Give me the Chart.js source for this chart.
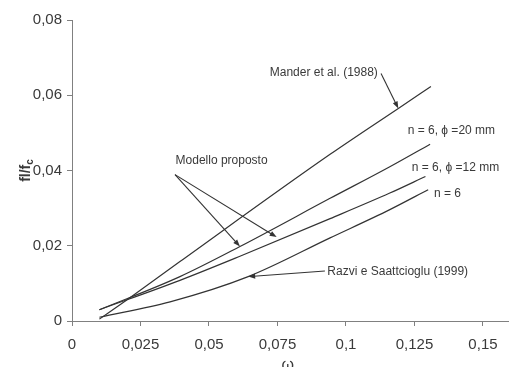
<!DOCTYPE html>
<html><head><meta charset="utf-8">
<script src="https://cdn.jsdelivr.net/npm/chart.js@4.4.1/dist/chart.umd.min.js"></script>
<style>html,body{margin:0;padding:0;background:#fff}#wrap{width:509px;height:367px;position:relative;overflow:hidden}</style>
</head><body><div id="wrap"><canvas id="c" width="509" height="367"></canvas></div>
<script>
const xTickValues = [0, 0.025, 0.05, 0.075, 0.1, 0.125, 0.15];
const xTickLabels = ['0', '0,025', '0,05', '0,075', '0,1', '0,125', '0,15'];
const yTickValues = [0, 0.02, 0.04, 0.06, 0.08];
const yTickLabels = ['0', '0,02', '0,04', '0,06', '0,08'];
const xTitle = 'ω';

const manderOmega = [0.01, 0.02, 0.0394, 0.0942, 0.1191, 0.131];
const manderRatio = [0.0005, 0.0056, 0.0158, 0.0443, 0.0565, 0.0623];
const phi20Omega = [0.01, 0.0394, 0.0613, 0.0942, 0.116, 0.1307];
const phi20Ratio = [0.003, 0.0118, 0.0198, 0.0326, 0.0410, 0.0470];
const phi12Omega = [0.01, 0.0394, 0.0613, 0.0942, 0.116, 0.129];
const phi12Ratio = [0.003, 0.0108, 0.0172, 0.0272, 0.0340, 0.0384];
const razviOmega = [0.01, 0.0358, 0.0643, 0.0942, 0.116, 0.130];
const razviRatio = [0.001, 0.0051, 0.0118, 0.0221, 0.0296, 0.0349];

const seriesNames = ['Mander et al. (1988)', 'n = 6, ϕ =20 mm', 'n = 6, ϕ =12 mm', 'Razvi e Saattcioglu (1999)'];

function pts(xs, ys) { return xs.map((x, i) => ({x: x, y: ys[i]})); }

const lineColor = '#333';
const textColor = '#3a3a3a';
const axisColor = '#808080';

const datasets = [
  [manderOmega, manderRatio], [phi20Omega, phi20Ratio], [phi12Omega, phi12Ratio], [razviOmega, razviRatio]
].map((s, i) => ({
  label: seriesNames[i], data: pts(s[0], s[1]), showLine: true, borderColor: lineColor,
  borderWidth: 1.2, pointRadius: 0, cubicInterpolationMode: 'monotone', fill: false
}));

// annotations in data coordinates
const textNotes = [
  {t: 'Mander et al. (1988)', x: 0.0919, y: 0.0660, align: 'center'},
  {t: 'n = 6, ϕ =20 mm', x: 0.1225, y: 0.0505, align: 'left'},
  {t: 'n = 6, ϕ =12 mm', x: 0.1240, y: 0.0407, align: 'left'},
  {t: 'n = 6', x: 0.1321, y: 0.0338, align: 'left'},
  {t: 'Razvi e Saattcioglu (1999)', x: 0.0932, y: 0.0130, align: 'left'},
  {t: 'Modello proposto', x: 0.0546, y: 0.0425, align: 'center'}
];
const arrowNotes = [
  [0.1128, 0.0658, 0.1191, 0.0565],
  [0.0923, 0.0133, 0.0643, 0.0118],
  [0.0376, 0.0389, 0.0613, 0.0198],
  [0.0376, 0.0389, 0.0747, 0.0223]
];

const notesPlugin = {
  id: 'notes',
  afterDraw(chart) {
    const ctx = chart.ctx, xs = chart.scales.x, ys = chart.scales.y;
    ctx.save();
    ctx.fillStyle = textColor;
    ctx.font = '12px "Liberation Sans", Arial, sans-serif';
    ctx.textBaseline = 'middle';
    textNotes.forEach(n => {
      ctx.textAlign = n.align;
      ctx.fillText(n.t, xs.getPixelForValue(n.x), ys.getPixelForValue(n.y));
    });
    ctx.strokeStyle = lineColor; ctx.fillStyle = lineColor; ctx.lineWidth = 1.1;
    arrowNotes.forEach(a => {
      const x1 = xs.getPixelForValue(a[0]), y1 = ys.getPixelForValue(a[1]);
      const x2 = xs.getPixelForValue(a[2]), y2 = ys.getPixelForValue(a[3]);
      const ang = Math.atan2(y2 - y1, x2 - x1), L = 7, W = 2.6;
      ctx.beginPath(); ctx.moveTo(x1, y1);
      ctx.lineTo(x2 - L * 0.8 * Math.cos(ang), y2 - L * 0.8 * Math.sin(ang)); ctx.stroke();
      ctx.beginPath(); ctx.moveTo(x2, y2);
      ctx.lineTo(x2 - L * Math.cos(ang) + W * Math.sin(ang), y2 - L * Math.sin(ang) - W * Math.cos(ang));
      ctx.lineTo(x2 - L * Math.cos(ang) - W * Math.sin(ang), y2 - L * Math.sin(ang) + W * Math.cos(ang));
      ctx.closePath(); ctx.fill();
    });
    // y axis title fl/fc
    ctx.fillStyle = textColor;
    ctx.translate(25, (ys.top + ys.bottom) / 2 + 0);
    ctx.rotate(-Math.PI / 2);
    ctx.font = 'bold 14px "Liberation Sans", Arial, sans-serif';
    const main = 'fl/f', sub = 'c';
    const w1 = ctx.measureText(main).width;
    ctx.font = 'bold 10px "Liberation Sans", Arial, sans-serif';
    const w2 = ctx.measureText(sub).width;
    const start = -(w1 + w2) / 2;
    ctx.textAlign = 'left'; ctx.textBaseline = 'alphabetic';
    ctx.font = 'bold 14px "Liberation Sans", Arial, sans-serif';
    ctx.fillText(main, start, 5);
    ctx.font = 'bold 10px "Liberation Sans", Arial, sans-serif';
    ctx.fillText(sub, start + w1, 8);
    ctx.restore();
    // x axis title (partially cut at bottom)
    ctx.save();
    ctx.fillStyle = textColor;
    ctx.font = '16px "Liberation Sans", Arial, sans-serif';
    ctx.textAlign = 'center'; ctx.textBaseline = 'alphabetic';
    ctx.fillText(xTitle, xs.getPixelForValue(0.0787), 370);
    ctx.restore();
  }
};

new Chart(document.getElementById('c'), {
  type: 'scatter',
  data: {datasets: datasets},
  options: {
    responsive: false, animation: false, devicePixelRatio: 1,
    layout: {padding: {top: 20, right: 0, left: 0, bottom: 0}},
    plugins: {legend: {display: false}, tooltip: {enabled: false}},
    scales: {
      x: {
        type: 'linear', min: 0, max: 0.1595,
        afterBuildTicks: s => { s.ticks = xTickValues.map(v => ({value: v})); },
        afterFit: s => { s.height = 46; s.paddingLeft = 0; s.paddingRight = 0; },
        ticks: {callback: v => xTickLabels[xTickValues.indexOf(v)], color: textColor, padding: 10, maxRotation: 0,
          font: {size: 15, family: '"Liberation Sans", Arial, sans-serif'}},
        grid: {display: true, drawOnChartArea: false, drawTicks: true, tickLength: 5, color: axisColor},
        border: {display: true, color: axisColor, width: 1}
      },
      y: {
        type: 'linear', min: 0, max: 0.08,
        afterBuildTicks: s => { s.ticks = yTickValues.map(v => ({value: v})); },
        afterFit: s => { s.width = 72; },
        ticks: {callback: v => yTickLabels[yTickValues.indexOf(v)], color: textColor, padding: 5,
          font: {size: 15, family: '"Liberation Sans", Arial, sans-serif'}},
        grid: {display: true, drawOnChartArea: false, drawTicks: true, tickLength: 5, color: axisColor},
        border: {display: true, color: axisColor, width: 1}
      }
    }
  },
  plugins: [notesPlugin]
});
</script></body></html>
